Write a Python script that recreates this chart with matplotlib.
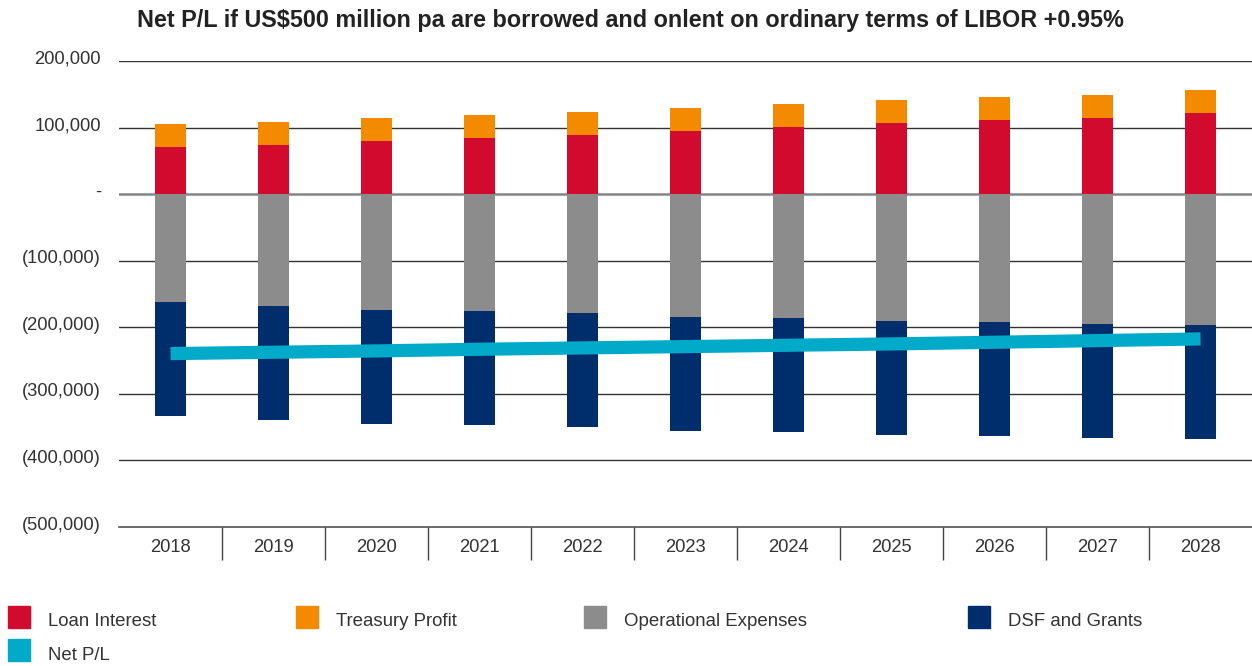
import matplotlib
matplotlib.use("Agg")
import matplotlib.pyplot as plt
from matplotlib.patches import Rectangle
from matplotlib.ticker import FixedLocator
from matplotlib.transforms import ScaledTranslation
import numpy as np

plt.rcParams['font.family'] = ['Liberation Sans', 'DejaVu Sans']

years = ["2018", "2019", "2020", "2021", "2022", "2023", "2024", "2025", "2026", "2027", "2028"]
loan_interest = [70500, 73500, 79500, 84000, 88500, 94500, 100500, 106500, 111000, 114000, 121500]
treasury_profit = [34500, 34500, 34500, 34500, 34500, 34500, 34500, 34500, 34500, 34500, 34500]
operational_expenses = [-162000, -168000, -174000, -175500, -178500, -184500, -186000, -190500, -192000, -195000, -196500]
dsf_grants = [-172000, -172000, -172000, -172000, -172000, -172000, -172000, -172000, -172000, -172000, -172000]
net_pl = [-239500, -237500, -235500, -233000, -231000, -229000, -227000, -225000, -222500, -220000, -217500]

yticks = [200000, 100000, 0, -100000, -200000, -300000, -400000, -500000]
ytick_labels = ["200,000", "100,000", "-", "(100,000)", "(200,000)", "(300,000)", "(400,000)", "(500,000)"]

title = "Net P/L if US$500 million pa are borrowed and onlent on ordinary terms of LIBOR +0.95%"
legend_labels = ["Loan Interest", "Treasury Profit", "Operational Expenses", "DSF and Grants", "Net P/L"]

c_red = "#D20B2E"
c_orange = "#F48A00"
c_gray = "#8B8C8B"
c_navy = "#002D6B"
c_cyan = "#00AAC8"
txt = "#333333"

W, H = 1252, 666
fig = plt.figure(figsize=(W / 100, H / 100), dpi=100)
ax = fig.add_axes([119 / W, (H - 527) / H, (1252 - 119) / W, (527 - 61) / H])

x = np.arange(len(years))
bw = 0.30
ax.bar(x, loan_interest, bw, color=c_red, zorder=3)
ax.bar(x, treasury_profit, bw, bottom=loan_interest, color=c_orange, zorder=3)
ax.bar(x, operational_expenses, bw, color=c_gray, zorder=3)
ax.bar(x, dsf_grants, bw, bottom=operational_expenses, color=c_navy, zorder=3)
ax.plot(x, net_pl, color=c_cyan, lw=9.5, solid_capstyle='butt', zorder=4)

ax.set_xlim(-0.5, len(years) - 0.5)
ax.set_ylim(-500000, 200000)

for v in yticks:
    if v == 0:
        ax.axhline(v, color="#858585", lw=1.8, zorder=1)
    elif v != -500000:
        ax.axhline(v, color="#333333", lw=1.0, zorder=1)

for s in ["top", "right", "left"]:
    ax.spines[s].set_visible(False)
ax.spines["bottom"].set_color("#444444")
ax.spines["bottom"].set_linewidth(1.1)

ax.set_yticks(yticks)
ax.set_yticklabels(ytick_labels)
ax.tick_params(axis='y', length=0, pad=13, labelsize=13.2, labelcolor=txt)
off = ScaledTranslation(0, 4 / 100, fig.dpi_scale_trans)
for lbl in ax.get_yticklabels():
    lbl.set_transform(lbl.get_transform() + off)

ax.set_xticks(x)
ax.set_xticklabels(years)
ax.xaxis.set_minor_locator(FixedLocator(np.arange(0.5, len(years) - 1, 1.0)))
ax.tick_params(axis='x', which='major', length=0, pad=9, labelsize=13.2, labelcolor=txt)
ax.tick_params(axis='x', which='minor', length=24, width=1.0, color="#444444", direction='out')

fig.text(137 / W, 1 - 21 / H, title, fontsize=16.8, fontweight='bold', color="#222222",
         ha='left', va='center')

# legend
items = [(8, 617, c_red), (296, 617, c_orange), (584, 617, c_gray), (968, 617, c_navy), (8, 650, c_cyan)]
for (px, py, col), lab in zip(items, legend_labels):
    fig.patches.append(Rectangle((px / W, 1 - (py + 11) / H), 22 / W, 22 / H,
                                 transform=fig.transFigure, color=col))
    fig.text((px + 40) / W, 1 - (py + 5) / H, lab, fontsize=13.4, color=txt, ha='left', va='center')

fig.savefig("out.png", dpi=100)
